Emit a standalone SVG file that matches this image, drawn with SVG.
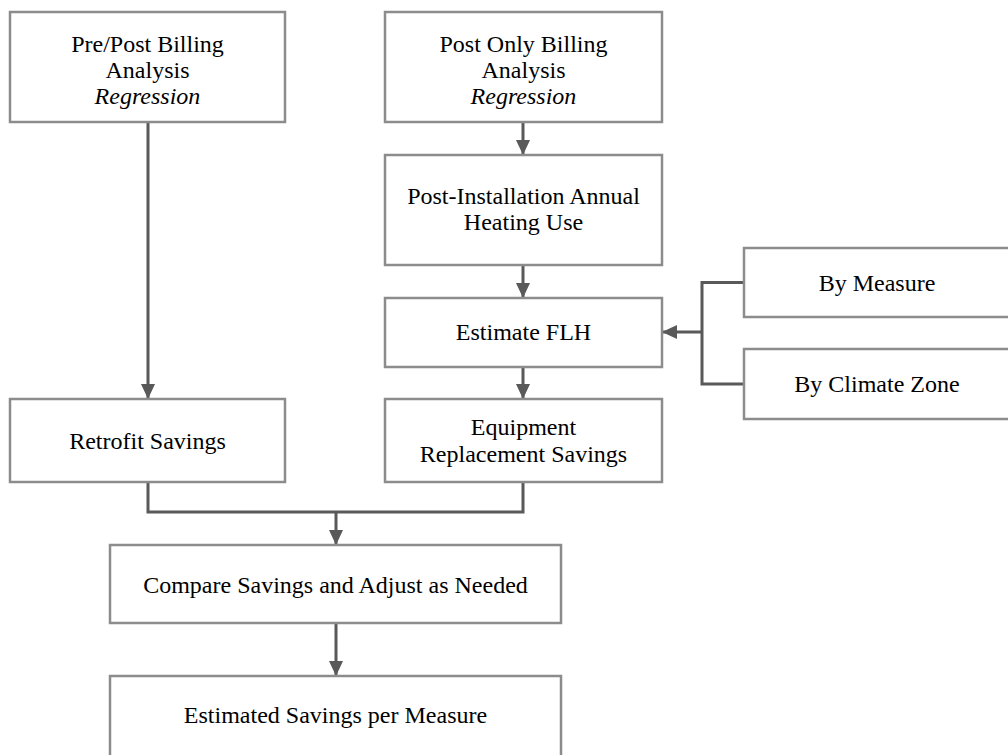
<svg xmlns="http://www.w3.org/2000/svg" width="1008" height="755" viewBox="0 0 1008 755">
  <style>
    .box { fill: #ffffff; stroke: #8c8c8c; stroke-width: 2.5; }
    .t { font-family: "Liberation Serif", "Times New Roman", serif; font-size: 24px; fill: #000000; text-anchor: middle; }
    .it { font-style: italic; }
    .conn { fill: none; stroke: #595959; stroke-width: 3; }
  </style>
  <defs>
    <marker id="arrow" viewBox="0 0 15 14" refX="15" refY="7" markerWidth="15" markerHeight="14" markerUnits="userSpaceOnUse" orient="auto">
      <path d="M0,0 L15,7 L0,14 Z" fill="#595959"/>
    </marker>
  </defs>
  <rect width="1008" height="755" fill="#ffffff"/>

  <g id="connectors">
    <line class="conn" x1="148" y1="122" x2="148" y2="399" marker-end="url(#arrow)"/>
    <line class="conn" x1="523" y1="122" x2="523" y2="155" marker-end="url(#arrow)"/>
    <line class="conn" x1="523" y1="265" x2="523" y2="298" marker-end="url(#arrow)"/>
    <line class="conn" x1="523" y1="367" x2="523" y2="399" marker-end="url(#arrow)"/>
    <polyline class="conn" points="744,282.5 702,282.5 702,384 744,384"/>
    <line class="conn" x1="702" y1="332" x2="662" y2="332" marker-end="url(#arrow)"/>
    <polyline class="conn" points="148,482 148,512 523,512 523,482"/>
    <line class="conn" x1="336" y1="512" x2="336" y2="545" marker-end="url(#arrow)"/>
    <line class="conn" x1="336" y1="623" x2="336" y2="676" marker-end="url(#arrow)"/>
  </g>

  <g id="node-prepost">
    <rect class="box" x="10" y="12" width="275" height="110"/>
    <text class="t" x="147.5" y="52">Pre/Post Billing</text>
    <text class="t" x="147.5" y="78">Analysis</text>
    <text class="t it" x="147.5" y="103.5">Regression</text>
  </g>
  <g id="node-postonly">
    <rect class="box" x="385" y="12" width="277" height="110"/>
    <text class="t" x="523.5" y="52">Post Only Billing</text>
    <text class="t" x="523.5" y="78">Analysis</text>
    <text class="t it" x="523.5" y="103.5">Regression</text>
  </g>
  <g id="node-postinstall">
    <rect class="box" x="385" y="155" width="277" height="110"/>
    <text class="t" x="523.5" y="203.5">Post-Installation Annual</text>
    <text class="t" x="523.5" y="229.5">Heating Use</text>
  </g>
  <g id="node-flh">
    <rect class="box" x="385" y="298" width="277" height="69"/>
    <text class="t" x="523.5" y="340">Estimate FLH</text>
  </g>
  <g id="node-bymeasure">
    <rect class="box" x="744" y="248" width="268" height="69"/>
    <text class="t" x="877" y="290.5">By Measure</text>
  </g>
  <g id="node-byclimate">
    <rect class="box" x="744" y="349" width="268" height="70"/>
    <text class="t" x="877" y="392">By Climate Zone</text>
  </g>
  <g id="node-retrofit">
    <rect class="box" x="10" y="399" width="275" height="83"/>
    <text class="t" x="147.5" y="449">Retrofit Savings</text>
  </g>
  <g id="node-equipment">
    <rect class="box" x="385" y="399" width="277" height="83"/>
    <text class="t" x="523.5" y="435">Equipment</text>
    <text class="t" x="523.5" y="462">Replacement Savings</text>
  </g>
  <g id="node-compare">
    <rect class="box" x="110" y="545" width="451" height="78"/>
    <text class="t" x="335.5" y="593">Compare Savings and Adjust as Needed</text>
  </g>
  <g id="node-estimated">
    <rect class="box" x="110" y="676" width="451" height="84"/>
    <text class="t" x="335.5" y="723">Estimated Savings per Measure</text>
  </g>
</svg>
